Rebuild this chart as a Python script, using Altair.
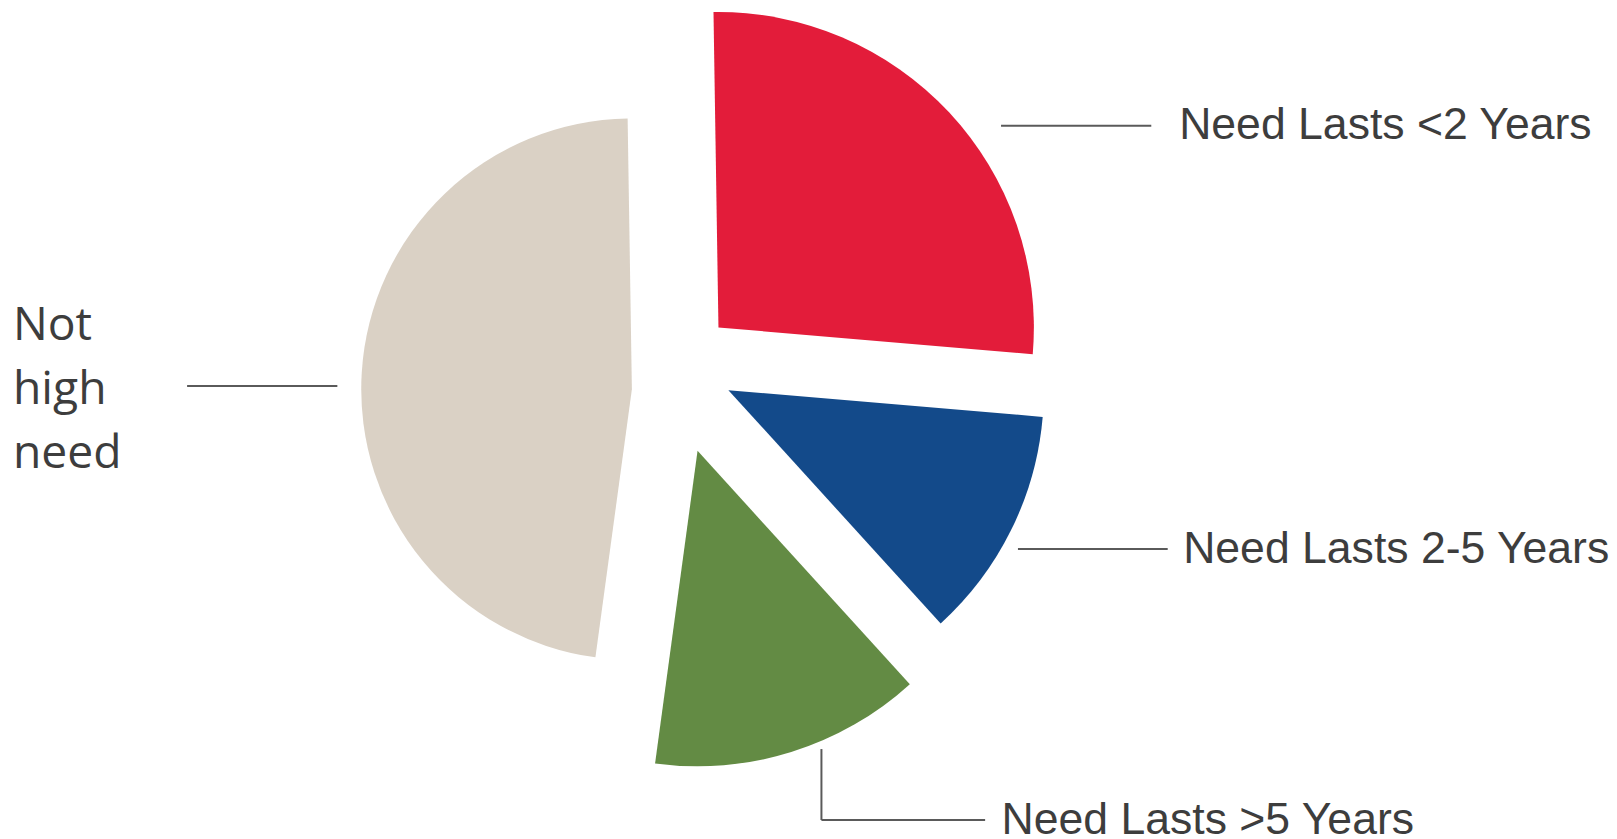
import math
import altair as alt
import pandas as pd

# ---- data ----
categories = ["Need Lasts <2 Years", "Need Lasts 2-5 Years", "Need Lasts >5 Years", "Not high need"]
shares = [26.6, 11.9, 13.9, 47.6]

# ---- style ----
colors = ["#E31C3A", "#134A8A", "#638B44", "#DAD1C5"]
radii = [317, 317, 317, 272]            # slice radius (px)
explode_dx = [43, 53, 22, -44]           # slice offset from pie centre (px)
explode_dy = [-47, 16, 77, 15]
pie_cx, pie_cy = 671, 366
start = math.radians(-0.9)

W, H = 1609, 831
text_color = "#3d3d3d"
line_color = "#5a5a5a"

pie_df = pd.DataFrame({
    "cat": categories,
    "share": shares,
    "idx": list(range(len(categories))),
    "r": radii,
    "dx": explode_dx,
    "dy": explode_dy,
})

pie = alt.Chart(pie_df).transform_window(
    cum="sum(share)", sort=[alt.SortField("idx")], frame=[None, 0]
).transform_calculate(
    t0="datum.cum - datum.share",
    t1="datum.cum",
    cx=f"{pie_cx} + datum.dx",
    cy=f"{pie_cy} + datum.dy",
).mark_arc(stroke=None).encode(
    theta=alt.Theta("t0:Q", stack=False,
                    scale=alt.Scale(domain=[0, 100], range=[start, start + 2 * math.pi])),
    theta2="t1:Q",
    color=alt.Color("cat:N", scale=alt.Scale(domain=categories, range=colors), legend=None),
    radius=alt.Radius("r:Q", scale=None),
    x=alt.X("cx:Q", scale=None),
    y=alt.Y("cy:Q", scale=None),
)

# leader lines (annotation layout, px)
lines_df = pd.DataFrame({
    "x":  [998, 1015, 817.5, 817.5, 180],
    "x2": [1149, 1165.5, 817.5, 982, 331],
    "y":  [116.3, 541.6, 742.7, 814, 377.7],
    "y2": [116.3, 541.6, 814, 814, 377.7],
})
rules = alt.Chart(lines_df).mark_rule(color=line_color, strokeWidth=2).encode(
    x=alt.X("x:Q", scale=None), x2="x2:Q",
    y=alt.Y("y:Q", scale=None), y2="y2:Q",
)

labels_df = pd.DataFrame({
    "text": [categories[0], categories[1], categories[2]],
    "x": [1177, 1181, 998.5],
    "y": [130, 556, 828.5],
})
labels = alt.Chart(labels_df).mark_text(
    font="Liberation Sans", fontSize=44.8, color=text_color,
    align="left", baseline="alphabetic",
).encode(
    x=alt.X("x:Q", scale=None), y=alt.Y("y:Q", scale=None), text="text:N",
)

left_df = pd.DataFrame({"text": ["Not\nhigh\nneed"], "x": [5], "y": [332]})
left_label = alt.Chart(left_df).mark_text(
    font="Open Sans", fontSize=46.5, color=text_color,
    align="left", baseline="alphabetic", lineBreak="\n", lineHeight=64,
).encode(
    x=alt.X("x:Q", scale=None), y=alt.Y("y:Q", scale=None), text="text:N",
)

chart = alt.layer(pie, rules, labels, left_label).properties(
    width=W, height=H, padding=0,
    autosize=alt.AutoSizeParams(type="none"),
).configure_view(stroke=None)

chart.save("out.html", embed_options={"renderer": "svg", "actions": False})
